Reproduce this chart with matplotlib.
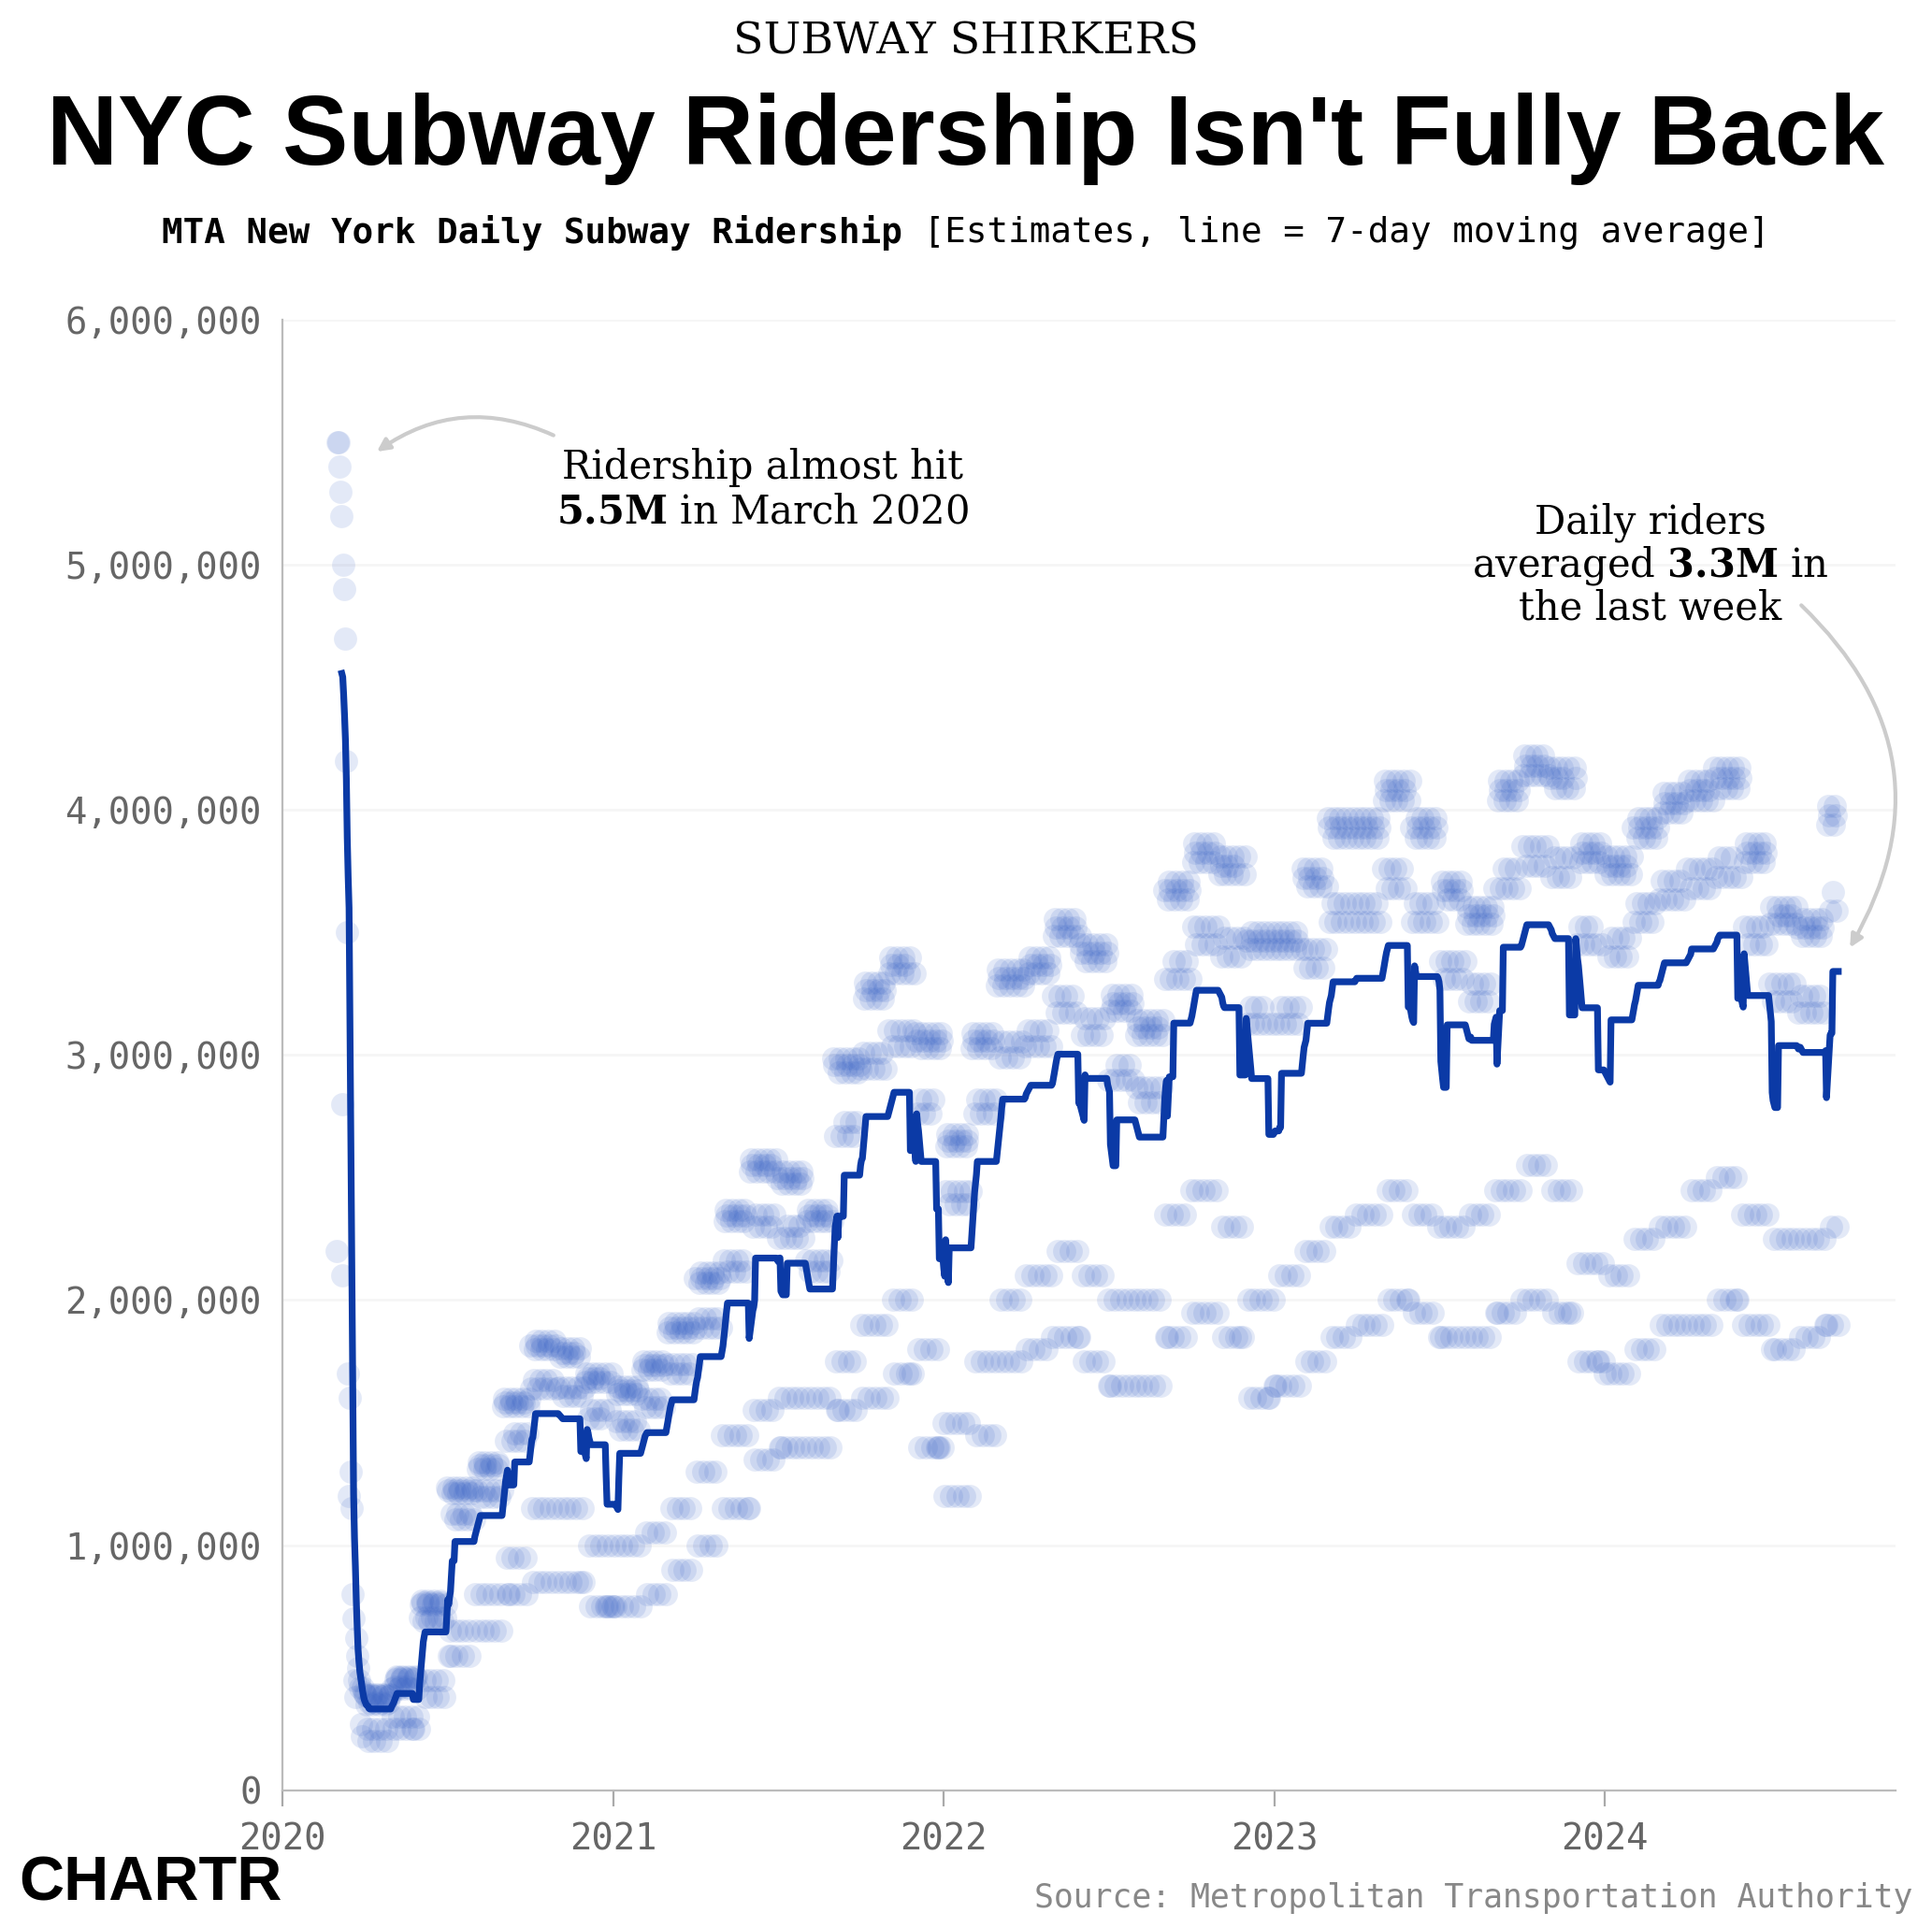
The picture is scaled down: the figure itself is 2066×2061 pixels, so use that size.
import numpy as np
import pandas as pd
import matplotlib
matplotlib.use("Agg")
import matplotlib.pyplot as plt
import matplotlib.dates as mdates

plt.rcParams["mathtext.fontset"] = "custom"
plt.rcParams["mathtext.rm"] = "DejaVu Serif"
plt.rcParams["mathtext.bf"] = "DejaVu Serif:bold"

# March 2020 daily ridership (millions)
march2020 = [2.2, 5.5, 5.5, 5.4, 5.3, 5.2, 2.8, 2.1, 5.0, 4.9, 4.7, 4.2, 3.5, 1.7, 1.2,
             1.6, 1.3, 1.15, 0.8, 0.7, 0.45, 0.38, 0.62, 0.55, 0.5, 0.45, 0.42, 0.27,
             0.22, 0.42, 0.40]
# Monthly typical levels from Apr 2020 to Sep 2024 (millions)
months = pd.period_range("2020-04", "2024-09", freq="M")
weekday = [0.38, 0.45, 0.75, 1.2, 1.3, 1.55, 1.78, 1.75, 1.65,
           1.6, 1.7, 1.85, 2.05, 2.3, 2.5, 2.45, 2.3, 2.9, 3.2, 3.3, 3.0,
           2.6, 3.0, 3.25, 3.3, 3.45, 3.35, 3.15, 3.05, 3.6, 3.75, 3.7, 3.4,
           3.4, 3.65, 3.85, 3.85, 4.0, 3.85, 3.6, 3.5, 4.0, 4.1, 4.05, 3.75,
           3.7, 3.85, 3.95, 4.0, 4.05, 3.75, 3.5, 3.45, 3.9]
saturday = [0.25, 0.3, 0.45, 0.65, 0.8, 0.95, 1.15, 1.15, 1.0,
            1.0, 1.05, 1.15, 1.3, 1.45, 1.55, 1.6, 1.6, 1.75, 1.9, 2.0, 1.8,
            1.5, 1.75, 2.0, 2.1, 2.2, 2.1, 2.0, 2.0, 2.35, 2.45, 2.3, 2.0,
            2.1, 2.2, 2.3, 2.35, 2.45, 2.35, 2.3, 2.35, 2.45, 2.55, 2.45, 2.15,
            2.1, 2.25, 2.3, 2.45, 2.5, 2.35, 2.25, 2.25, 2.3]
sunday = [0.2, 0.25, 0.38, 0.55, 0.65, 0.8, 0.85, 0.85, 0.75,
          0.75, 0.8, 0.9, 1.0, 1.15, 1.35, 1.4, 1.4, 1.55, 1.6, 1.7, 1.4,
          1.2, 1.45, 1.75, 1.8, 1.85, 1.75, 1.65, 1.65, 1.85, 1.95, 1.85, 1.6,
          1.65, 1.75, 1.85, 1.9, 2.0, 1.95, 1.85, 1.85, 1.95, 2.0, 1.95, 1.75,
          1.7, 1.8, 1.9, 1.9, 2.0, 1.9, 1.8, 1.85, 1.9]
# relative weekday levels Mon..Fri
weekday_factor = [0.94, 1.01, 1.03, 1.02, 0.92]
holidays = ["2020-05-25", "2020-07-03", "2020-09-07", "2020-11-26", "2020-12-24", "2020-12-25",
            "2020-12-31", "2021-01-01", "2021-05-31", "2021-07-05", "2021-09-06", "2021-11-25",
            "2021-12-24", "2021-12-27", "2021-12-31", "2022-05-30", "2022-07-04", "2022-09-05",
            "2022-11-24", "2022-12-26", "2023-01-02", "2023-05-29", "2023-07-04", "2023-09-04",
            "2023-11-23", "2023-12-25", "2024-01-01", "2024-05-27", "2024-07-04", "2024-09-02"]
end_date = "2024-09-15"

dates = pd.date_range("2020-03-01", end_date, freq="D")
lookup = {m: (w, s, u) for m, w, s, u in zip(months, weekday, saturday, sunday)}
hol = set(pd.to_datetime(holidays))
vals = []
for d in dates:
    if d.year == 2020 and d.month == 3:
        vals.append(march2020[d.day - 1]); continue
    w, s, u = lookup[d.to_period("M")]
    if d in hol or d.dayofweek == 6:
        vals.append(u)
    elif d.dayofweek == 5:
        vals.append(s)
    else:
        vals.append(w * weekday_factor[d.dayofweek])
series = pd.Series(np.array(vals) * 1e6, index=dates)
ma = series.rolling(7).mean()

fig = plt.figure(figsize=(10.33, 10.305), dpi=200)
ax = fig.add_axes([0.146, 0.071, 0.835, 0.763])
ax.scatter(series.index, series.values, s=80, color="#3f68c8", alpha=0.14, lw=0, zorder=2)
ax.plot(ma.index, ma.values, color="#0b3aa6", lw=2.6, zorder=3)

ax.set_ylim(0, 6e6)
ax.set_xlim(pd.Timestamp("2020-01-01"), pd.Timestamp("2024-11-17"))
ax.set_yticks(np.arange(0, 6.01e6, 1e6))
ax.yaxis.set_major_formatter(matplotlib.ticker.FuncFormatter(lambda v, p: f"{int(v):,}"))
ax.xaxis.set_major_locator(mdates.YearLocator())
ax.xaxis.set_major_formatter(mdates.DateFormatter("%Y"))
mono = "DejaVu Sans Mono"
for lab in ax.get_yticklabels() + ax.get_xticklabels():
    lab.set_fontfamily(mono); lab.set_fontsize(14); lab.set_color("#666666")
ax.tick_params(axis="y", length=0, pad=8)
ax.tick_params(axis="x", length=6, color="#aaaaaa", pad=6)
ax.grid(axis="y", color="#f5f5f5", lw=1)
ax.set_axisbelow(True)
for s in ["top", "right"]:
    ax.spines[s].set_visible(False)
for s in ["left", "bottom"]:
    ax.spines[s].set_color("#bbbbbb")

serif = "DejaVu Serif"
ax.text(pd.Timestamp("2021-06-15"), 5.35e6, "Ridership almost hit", ha="center", fontsize=15, family=serif)
ax.text(pd.Timestamp("2021-06-15"), 5.17e6, r"$\mathbf{5.5M}$ in March 2020", ha="center", fontsize=15, family=serif)
ax.annotate("", xy=(pd.Timestamp("2020-04-10"), 5.45e6), xytext=(pd.Timestamp("2020-11-01"), 5.52e6),
            arrowprops=dict(arrowstyle="-|>", color="#cccccc", lw=1.5, connectionstyle="arc3,rad=0.3"))
ax.text(pd.Timestamp("2024-02-20"), 5.0e6, "Daily riders\naveraged $\\mathbf{3.3M}$ in\nthe last week", ha="center",
        va="center", fontsize=15, family=serif, linespacing=1.05)
ax.annotate("", xy=(pd.Timestamp("2024-09-25"), 3.42e6), xytext=(pd.Timestamp("2024-08-01"), 4.85e6),
            arrowprops=dict(arrowstyle="-|>", color="#cccccc", lw=1.5, connectionstyle="arc3,rad=-0.4"))

fig.text(0.5, 0.978, "SUBWAY SHIRKERS", ha="center", va="center", fontsize=17, family=serif)
fig.text(0.5, 0.928, "NYC Subway Ridership Isn't Fully Back", ha="center", va="center", fontsize=38,
         family="Liberation Sans", weight="bold")
fig.text(0.467, 0.879, "MTA New York Daily Subway Ridership", ha="right", va="center", fontsize=13.5,
         family=mono, weight="bold")
fig.text(0.467, 0.879, " [Estimates, line = 7-day moving average]", ha="left", va="center", fontsize=13.5,
         family=mono)
fig.text(0.01, 0.022, "CHARTR", ha="left", va="center", fontsize=24, family="Liberation Sans", weight="bold")
fig.text(0.99, 0.015, "Source: Metropolitan Transportation Authority", ha="right", va="center", fontsize=12.5,
         family=mono, color="#888888")
fig.savefig("out.png", dpi=200, facecolor="white")
